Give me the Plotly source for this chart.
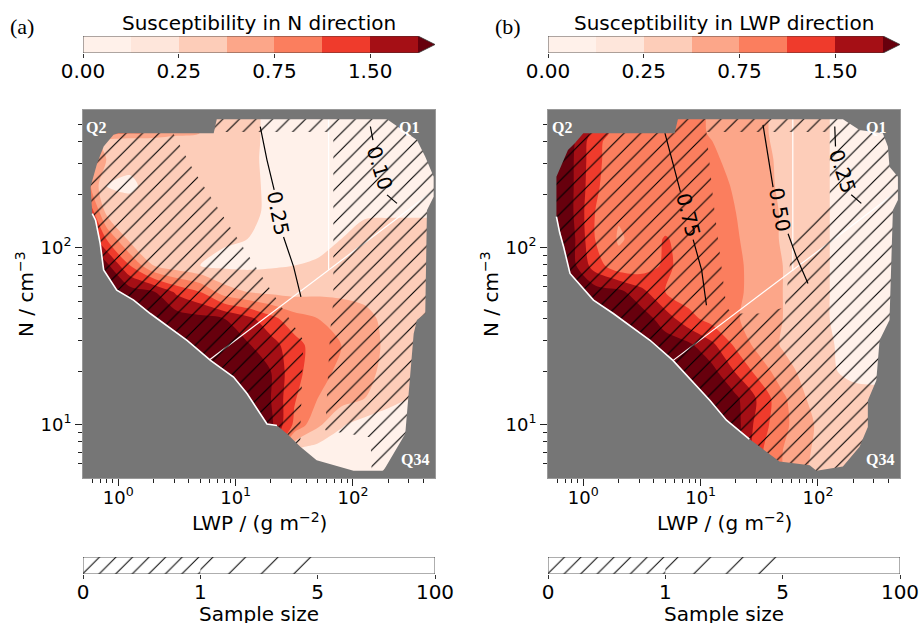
import numpy as np
import plotly.graph_objects as go

W, H = 921, 623

# ---------------- data ----------------
LWP_GRID = [0.5, 0.79, 1.26, 2.0, 3.16, 5.0, 7.94, 12.6, 20.0, 31.6, 50.1, 79.4, 126, 200, 316, 501]
N_GRID = [5.0, 7.08, 10.0, 14.1, 20.0, 28.2, 39.8, 56.2, 79.4, 112, 158, 224, 316, 400, 447, 631]

# susceptibility in N direction (rows: N_GRID, cols: LWP_GRID); cells outside the
# populated region are hidden under the grey mask
SUSC_N = [
    [2.5, 2.5, 2.5, 2.5, 2.5, 2.5, 2.5, 2.5, 2.5, 0.3, 0.2, 0.16, 0.15, 0.15, 0.2, 0.25],
    [2.5, 2.5, 2.5, 2.5, 2.5, 2.5, 2.5, 2.5, 1.5, 0.25, 0.175, 0.16, 0.145, 0.145, 0.2, 0.25],
    [2.5, 2.5, 2.5, 2.5, 2.5, 2.5, 2.5, 2.5, 2.2, 0.95, 0.55, 0.275, 0.19, 0.175, 0.2, 0.25],
    [2.5, 2.5, 2.5, 2.5, 2.5, 2.5, 2.5, 2.5, 2.0, 1.05, 0.75, 0.6, 0.5, 0.325, 0.25, 0.25],
    [2.5, 2.5, 2.5, 2.5, 2.5, 2.5, 2.5, 2.5, 2.0, 1.15, 0.875, 0.675, 0.575, 0.425, 0.35, 0.35],
    [2.5, 2.5, 2.5, 2.5, 2.5, 2.5, 2.4, 2.1, 1.7, 1.2, 0.875, 0.75, 0.6, 0.45, 0.375, 0.375],
    [2.5, 2.5, 2.5, 2.5, 2.5, 2.3, 2.0, 1.65, 1.15, 0.85, 0.75, 0.65, 0.55, 0.45, 0.375, 0.375],
    [2.5, 2.5, 2.5, 2.1, 1.4, 1.0, 0.625, 0.5, 0.45, 0.425, 0.45, 0.45, 0.45, 0.425, 0.375, 0.375],
    [2.5, 2.3, 1.0, 0.5, 0.35, 0.25, 0.22, 0.22, 0.235, 0.25, 0.3, 0.35, 0.375, 0.375, 0.35, 0.35],
    [2.5, 1.0, 0.425, 0.375, 0.35, 0.325, 0.275, 0.25, 0.205, 0.175, 0.175, 0.25, 0.325, 0.35, 0.35, 0.35],
    [2.0, 0.45, 0.375, 0.375, 0.375, 0.4, 0.4, 0.35, 0.205, 0.175, 0.175, 0.22, 0.235, 0.235, 0.235, 0.235],
    [1.0, 0.25, 0.22, 0.35, 0.375, 0.375, 0.375, 0.35, 0.205, 0.175, 0.16, 0.175, 0.19, 0.205, 0.22, 0.235],
    [1.0, 0.5, 0.325, 0.375, 0.375, 0.375, 0.375, 0.325, 0.205, 0.175, 0.145, 0.115, 0.10, 0.10, 0.145, 0.15],
    [0.75, 0.4, 0.35, 0.375, 0.375, 0.375, 0.375, 0.35, 0.2, 0.17, 0.14, 0.09, 0.07, 0.07, 0.1, 0.12],
    [1.0, 0.9, 0.8, 0.7, 0.575, 0.5, 0.4, 0.375, 0.19, 0.16, 0.13, 0.08, 0.06, 0.06, 0.08, 0.1],
    [1.0, 0.9, 0.8, 0.7, 0.575, 0.5, 0.4, 0.375, 0.19, 0.16, 0.13, 0.08, 0.06, 0.06, 0.08, 0.1],
]

# susceptibility in LWP direction
SUSC_LWP = [
    [2.5, 2.5, 2.5, 2.5, 2.5, 2.5, 2.5, 2.5, 2.5, 1.2, 0.75, 0.5, 0.4, 0.35, 0.35, 0.35],
    [2.5, 2.5, 2.5, 2.5, 2.5, 2.5, 2.5, 2.5, 2.5, 1.1, 0.75, 0.525, 0.4, 0.35, 0.35, 0.35],
    [2.5, 2.5, 2.5, 2.5, 2.5, 2.5, 2.5, 2.5, 2.4, 1.25, 0.825, 0.55, 0.4, 0.35, 0.35, 0.35],
    [2.5, 2.5, 2.5, 2.5, 2.5, 2.5, 2.5, 2.5, 2.2, 1.4, 0.8, 0.5, 0.4, 0.325, 0.3, 0.3],
    [2.5, 2.5, 2.5, 2.5, 2.5, 2.5, 2.5, 2.3, 1.45, 0.9, 0.6, 0.425, 0.275, 0.22, 0.22, 0.22],
    [2.5, 2.5, 2.5, 2.5, 2.5, 2.5, 2.2, 1.6, 0.95, 0.65, 0.475, 0.375, 0.275, 0.19, 0.19, 0.19],
    [2.5, 2.5, 2.5, 2.5, 2.5, 1.75, 1.15, 0.9, 0.775, 0.625, 0.5, 0.375, 0.25, 0.19, 0.175, 0.175],
    [2.5, 2.5, 2.5, 2.3, 1.65, 1.0, 0.875, 0.875, 0.8, 0.65, 0.5, 0.375, 0.25, 0.19, 0.175, 0.175],
    [2.5, 2.4, 1.25, 0.825, 0.85, 1.1, 0.9, 0.875, 0.8, 0.65, 0.5, 0.375, 0.25, 0.19, 0.175, 0.175],
    [2.5, 2.4, 1.0, 0.725, 0.825, 1.05, 0.875, 0.85, 0.775, 0.625, 0.475, 0.375, 0.25, 0.19, 0.175, 0.175],
    [2.5, 2.2, 1.0, 0.775, 0.825, 0.825, 0.875, 0.85, 0.75, 0.625, 0.475, 0.375, 0.25, 0.19, 0.175, 0.175],
    [2.5, 2.2, 1.1, 0.8, 0.825, 0.825, 0.85, 0.825, 0.725, 0.6, 0.45, 0.375, 0.25, 0.19, 0.175, 0.175],
    [2.5, 2.2, 1.15, 0.825, 0.825, 0.825, 0.825, 0.775, 0.7, 0.575, 0.45, 0.35, 0.25, 0.19, 0.175, 0.175],
    [2.5, 2.3, 1.15, 0.85, 0.825, 0.825, 0.825, 0.75, 0.675, 0.55, 0.44, 0.35, 0.25, 0.19, 0.175, 0.175],
    [2.5, 2.4, 1.3, 0.9, 0.85, 0.85, 0.825, 0.725, 0.65, 0.55, 0.425, 0.35, 0.25, 0.19, 0.175, 0.175],
    [2.5, 2.4, 1.3, 0.9, 0.85, 0.85, 0.825, 0.725, 0.65, 0.55, 0.425, 0.35, 0.25, 0.19, 0.175, 0.175],
]

LEVELS = [0.0, 0.1, 0.25, 0.5, 0.75, 1.0, 1.5, 2.0]
LEVEL_TICK_IDX = [0, 2, 4, 6]
LEVEL_TICK_TEXT = ["0.00", "0.25", "0.75", "1.50"]
PALETTE = ["#fff1ea", "#fee6db", "#fdcdb9", "#fca689", "#fb7e5e", "#ef3b2c", "#a50f15", "#67000d"]

SAMPLE_TICKS = ["0", "1", "5", "100"]

# outline of the populated region (LWP, N)
BOUND_A_LWP = [1.00, 6.5, 6.9, 195, 351, 413, 487, 487, 427, 413, 351, 329, 279, 230, 182, 101, 49, 35.6,
               27.4, 22.5, 18.5, 12.5, 9.6, 6.1, 3.85, 1.87, 1.35, 0.97, 0.75, 0.70, 0.64, 0.60, 0.58, 0.66, 0.75, 0.91]
BOUND_A_N = [444, 444, 532, 532, 406, 327, 252, 194, 163, 42.5, 39, 32.7, 8.9, 7.2, 5.5, 5.5, 6.3, 7.5,
             8.9, 9.9, 10.1, 15, 18.6, 23.1, 30, 42.5, 50.6, 57.5, 74.8, 106, 143, 156, 221, 300, 373, 435]
BOUND_B_LWP = [1.0, 6.0, 6.4, 163, 226, 357, 394, 407, 480, 480, 435, 407, 335, 314, 266, 266, 226, 163, 97,
               85, 47, 32, 26, 16.6, 12, 5.8, 3.7, 1.8, 1.22, 0.77, 0.68, 0.63, 0.59, 0.59, 0.74, 0.85]
BOUND_B_N = [444, 444, 532, 532, 463, 444, 373, 287, 252, 186, 163, 39, 30, 17.8, 13.7, 9.7, 7.5, 5.8, 5.5,
             5.9, 6.2, 7.5, 8.3, 10.6, 13.7, 23.1, 30, 42.5, 50.6, 71.6, 101, 121, 150, 252, 357, 390]
EDGE_A = (19, 31)   # index range of the lower-left (stepped) edge
EDGE_B = (22, 32)

# region without hatching (sample size >= 5)
CLEAR_A_LWP = [2.9, 68, 68, 64, 58, 141, 146, 35.6, 35.6, 37.8, 25, 4.36]
CLEAR_A_N = [450, 450, 50.6, 34.2, 9.3, 8.5, 4.26, 4.26, 9.3, 30, 45.6, 275]
CLEAR_B_LWP = [11.2, 126, 126, 61, 52, 32, 18.9, 16.6, 12.8]
CLEAR_B_N = [450, 450, 171, 110, 46, 42.5, 42.5, 46, 186]

# quadrant dividers
DIAG_A_LWP, DIAG_A_N = [6.0, 475], [23.3, 207]
VERT_A_LWP, VERT_A_N = [62, 62], [75, 532]
DIAG_B_LWP, DIAG_B_N = [5.83, 464], [23.1, 206]
VERT_B_LWP, VERT_B_N = [61, 61], [74, 532]

# black contour lines (pieces on either side of their label)
CL_A_LABELS = ["0.25", "0.10"]
CL_A_PIECES = [
    [([16.2, 18.5, 21.3], [484, 313, 212]), ([25.6, 31.2, 36.0], [115, 78, 52.8])],
    [([140.6, 148], [484, 406]), ([195, 237], [199, 178])],
]
CL_A_POS = [(23.2, 156, 79), (168, 281, 73)]
CL_B_LABELS = ["0.75", "0.50", "0.25"]
CL_B_PIECES = [
    [([4.96, 5.83, 6.73], [444, 300, 207]), ([8.63, 10.2, 11.2], [111, 74.8, 47.3])],
    [([34, 37.5, 41.4], [494, 335, 220]), ([55.6, 65.4, 82.2], [120, 89, 62.8])],
    [([139, 141], [484, 373]), ([192, 234], [199, 178])],
]
CL_B_POS = [(7.83, 153, 76), (47.2, 163, 80), (163, 269, 72)]

# ---------------- helpers ----------------
GREY = "#767676"
FONT = "DejaVu Sans"
SERIF = "Liberation Serif"


def to_index(rows):
    arr = np.array(rows, dtype=float)
    idx = np.interp(arr, LEVELS + [3.0], list(range(len(LEVELS) + 1)))
    return idx.tolist()


def signed_area(xs, ys):
    s = 0.0
    for i in range(len(xs)):
        j = (i + 1) % len(xs)
        s += xs[i] * ys[j] - xs[j] * ys[i]
    return s / 2


def keyhole(hx, hy):
    ox = [-0.45, 2.85, 2.85, -0.45]
    oy = [0.55, 0.55, 2.95, 2.95]
    hx = list(hx)
    hy = list(hy)
    if signed_area(ox, oy) * signed_area(hx, hy) > 0:
        hx, hy = hx[::-1], hy[::-1]
    d = [(x - ox[0]) ** 2 + (y - oy[0]) ** 2 for x, y in zip(hx, hy)]
    i0 = int(np.argmin(d))
    hx = hx[i0:] + hx[:i0] + [hx[i0]]
    hy = hy[i0:] + hy[:i0] + [hy[i0]]
    xs = ox + [ox[0]] + hx + [ox[0]]
    ys = oy + [oy[0]] + hy + [oy[0]]
    return xs, ys


lg = np.log10
step_scale = []
for k, c in enumerate(PALETTE):
    lo = 0.0 if k == 0 else (k - 0.25) / 7
    hi = 1.0 if k == 7 else (k + 0.75) / 7
    step_scale.append([lo, c])
    step_scale.append([hi, c])

fig = go.Figure()


def hatch(spacing_px, line_px=1.0):
    return dict(shape="/", size=spacing_px, solidity=line_px / spacing_px, fgcolor="#000000", fgopacity=1,
                bgcolor="rgba(0,0,0,0)")


def add_panel(xa, ya, susc, blx, bly, edge, clx, cly, diag, vert, pieces, labels, pos):
    fig.add_trace(go.Contour(
        x=list(lg(LWP_GRID)), y=list(lg(N_GRID)), z=to_index(susc),
        xaxis=xa, yaxis=ya, autocontour=False,
        contours=dict(start=1, end=7, size=1, coloring="fill", showlines=False),
        line=dict(width=0, smoothing=0.8),
        colorscale=step_scale, zmin=0, zmax=7, showscale=False, hoverinfo="skip"))
    for lx, ly in (diag, vert):
        fig.add_trace(go.Scatter(x=list(lg(lx)), y=list(lg(ly)), mode="lines", xaxis=xa, yaxis=ya,
                                 line=dict(color="white", width=1.2), hoverinfo="skip"))
    hx, hy = keyhole(lg(clx), lg(cly))
    fig.add_trace(go.Scatter(x=hx, y=hy, mode="lines", fill="toself", xaxis=xa, yaxis=ya,
                             fillcolor="rgba(0,0,0,0)", line=dict(width=0, color="rgba(0,0,0,0)"),
                             fillpattern=hatch(11.7, 1.1), hoverinfo="skip"))
    for (p1, p2) in pieces:
        for px_, py_ in (p1, p2):
            fig.add_trace(go.Scatter(x=list(lg(px_)), y=list(lg(py_)), mode="lines", xaxis=xa, yaxis=ya,
                                     line=dict(color="black", width=1.2), hoverinfo="skip"))
    mx, my = keyhole(lg(blx), lg(bly))
    fig.add_trace(go.Scatter(x=mx, y=my, mode="lines", fill="toself", xaxis=xa, yaxis=ya,
                             fillcolor=GREY, line=dict(width=0, color=GREY), hoverinfo="skip"))
    e0, e1 = edge
    fig.add_trace(go.Scatter(x=list(lg(blx[e0:e1 + 1])), y=list(lg(bly[e0:e1 + 1])), mode="lines",
                             xaxis=xa, yaxis=ya, line=dict(color="white", width=1.6), hoverinfo="skip"))
    for lab, (x0, y0, ang) in zip(labels, pos):
        fig.add_annotation(x=float(lg(x0)), y=float(lg(y0)), xref=xa, yref=ya, text=lab, showarrow=False,
                           textangle=ang, font=dict(family=FONT, size=20, color="black"))


add_panel("x", "y", SUSC_N, BOUND_A_LWP, BOUND_A_N, EDGE_A, CLEAR_A_LWP, CLEAR_A_N,
          (DIAG_A_LWP, DIAG_A_N), (VERT_A_LWP, VERT_A_N), CL_A_PIECES, CL_A_LABELS, CL_A_POS)
add_panel("x2", "y2", SUSC_LWP, BOUND_B_LWP, BOUND_B_N, EDGE_B, CLEAR_B_LWP, CLEAR_B_N,
          (DIAG_B_LWP, DIAG_B_N), (VERT_B_LWP, VERT_B_N), CL_B_PIECES, CL_B_LABELS, CL_B_POS)

ARROW = 7.355
for xa, ya in (("x3", "y3"), ("x4", "y4")):
    fig.add_trace(go.Heatmap(x=[k + 0.5 for k in range(7)], y=[0.5], z=[list(range(7))], xaxis=xa, yaxis=ya,
                             colorscale=step_scale, zmin=0, zmax=7, showscale=False, hoverinfo="skip"))
    fig.add_trace(go.Scatter(x=[7, ARROW, 7, 7], y=[0, 0.5, 1, 0], mode="lines", fill="toself",
                             fillcolor=PALETTE[7], line=dict(width=0, color=PALETTE[7]),
                             xaxis=xa, yaxis=ya, hoverinfo="skip"))
    fig.add_trace(go.Scatter(x=[0, 7, ARROW, 7, 0, 0], y=[0, 0, 0.5, 1, 1, 0], mode="lines",
                             line=dict(color="#333333", width=0.8), xaxis=xa, yaxis=ya, hoverinfo="skip"))

for xa, ya in (("x5", "y5"), ("x6", "y6")):
    for (a, b, sp) in ((0, 1, 11.7), (1, 2, 23)):
        fig.add_trace(go.Scatter(x=[a, b, b, a, a], y=[0, 0, 1, 1, 0], mode="lines", fill="toself",
                                 fillcolor="rgba(0,0,0,0)", line=dict(width=0, color="rgba(0,0,0,0)"),
                                 fillpattern=hatch(sp, 1.0), xaxis=xa, yaxis=ya, hoverinfo="skip"))
    fig.add_trace(go.Scatter(x=[0, 3, 3, 0, 0], y=[0, 0, 1, 1, 0], mode="lines",
                             line=dict(color="#333333", width=0.8), xaxis=xa, yaxis=ya, hoverinfo="skip"))

# ---------------- axes ----------------
XA = [83 / W, 435 / W]
XB = [548 / W, 900 / W]
YMAIN = [1 - 478 / H, 1 - 110 / H]
YCB = [1 - 53 / H, 1 - 36 / H]
YSB = [1 - 574 / H, 1 - 557 / H]

xminor = [v * d for d in (0.1, 1, 10, 100) for v in range(2, 10) if 0.5 < v * d < 500]
yminor = [v * d for d in (1, 10, 100) for v in range(2, 10) if 5 < v * d < 600]
tickfont = dict(family=FONT, size=18, color="black")

main_x = dict(range=[lg(0.5), lg(500)], tickvals=[0, 1, 2],
              ticktext=["10<sup>0</sup>", "10<sup>1</sup>", "10<sup>2</sup>"],
              ticks="outside", ticklen=7, tickwidth=1, tickcolor="#222", showgrid=False, zeroline=False,
              showline=True, linecolor="#999", linewidth=1, mirror=True, tickfont=tickfont,
              ticklabelstandoff=-4,
              minor=dict(tickvals=list(lg(xminor)), ticks="outside", ticklen=4, tickwidth=0.8, tickcolor="#222"),
              fixedrange=True, automargin=False)
main_y = dict(range=[lg(5), lg(600)], tickvals=[1, 2], ticktext=["10<sup>1</sup>", "10<sup>2</sup>"],
              ticks="outside", ticklen=7, tickwidth=1, tickcolor="#222", showgrid=False, zeroline=False,
              showline=True, linecolor="#999", linewidth=1, mirror=True, tickfont=tickfont,
              minor=dict(tickvals=list(lg(yminor)), ticks="outside", ticklen=4, tickwidth=0.8, tickcolor="#222"),
              fixedrange=True, automargin=False)
cb_x = dict(range=[0, ARROW], tickvals=LEVEL_TICK_IDX, ticktext=LEVEL_TICK_TEXT, ticks="outside", ticklen=4,
            tickcolor="#333", showgrid=False, zeroline=False, showline=False, ticklabelstandoff=-4,
            tickfont=dict(family=FONT, size=20, color="black"), fixedrange=True, automargin=False)
sb_x = dict(range=[0, 3], tickvals=[0, 1, 2, 3], ticktext=SAMPLE_TICKS, ticks="outside", ticklen=4,
            tickcolor="#333", showgrid=False, zeroline=False, showline=False, ticklabelstandoff=-4,
            tickfont=dict(family=FONT, size=20, color="black"), fixedrange=True, automargin=False)
hid_y = dict(range=[0, 1], visible=False, fixedrange=True, automargin=False)

fig.update_layout(
    width=W, height=H, margin=dict(l=0, r=0, t=0, b=0, pad=0, autoexpand=False),
    paper_bgcolor="white", plot_bgcolor="white", showlegend=False,
    xaxis=dict(main_x, domain=XA, anchor="y"), yaxis=dict(main_y, domain=YMAIN, anchor="x"),
    xaxis2=dict(main_x, domain=XB, anchor="y2"), yaxis2=dict(main_y, domain=YMAIN, anchor="x2"),
    xaxis3=dict(cb_x, domain=XA, anchor="y3"), yaxis3=dict(hid_y, domain=YCB, anchor="x3"),
    xaxis4=dict(cb_x, domain=XB, anchor="y4"), yaxis4=dict(hid_y, domain=YCB, anchor="x4"),
    xaxis5=dict(sb_x, domain=XA, anchor="y5"), yaxis5=dict(hid_y, domain=YSB, anchor="x5"),
    xaxis6=dict(sb_x, domain=XB, anchor="y6"), yaxis6=dict(hid_y, domain=YSB, anchor="x6"),
)


def pann(px, py, text, size=20, family=FONT, color="black", angle=0, bold=False):
    if bold:
        text = "<b>" + text + "</b>"
    fig.add_annotation(x=px / W, y=1 - py / H, xref="paper", yref="paper", text=text, showarrow=False,
                       xanchor="center", yanchor="middle", textangle=angle,
                       font=dict(family=family, size=size, color=color))


pann(22, 26, "(a)", size=22, family=SERIF)
pann(508, 26, "(b)", size=22, family=SERIF)
pann(259, 23, "Susceptibility in N direction")
pann(724, 23, "Susceptibility in LWP direction")
for cx in (259, 724):
    pann(cx, 522, "LWP / (g m<sup>\u22122</sup>)")
    pann(cx, 614, "Sample size")
pann(25, 294, "N / cm<sup>\u22123</sup>", angle=-90)
pann(490, 294, "N / cm<sup>\u22123</sup>", angle=-90)
for (qx, qy, qt) in ((96, 127, "Q2"), (409, 127, "Q1"), (415, 460, "Q34"),
                     (562, 127, "Q2"), (876, 127, "Q1"), (880, 460, "Q34")):
    pann(qx, qy, qt, size=16, family=SERIF, color="white", bold=True)

fig.write_html("out.html")
